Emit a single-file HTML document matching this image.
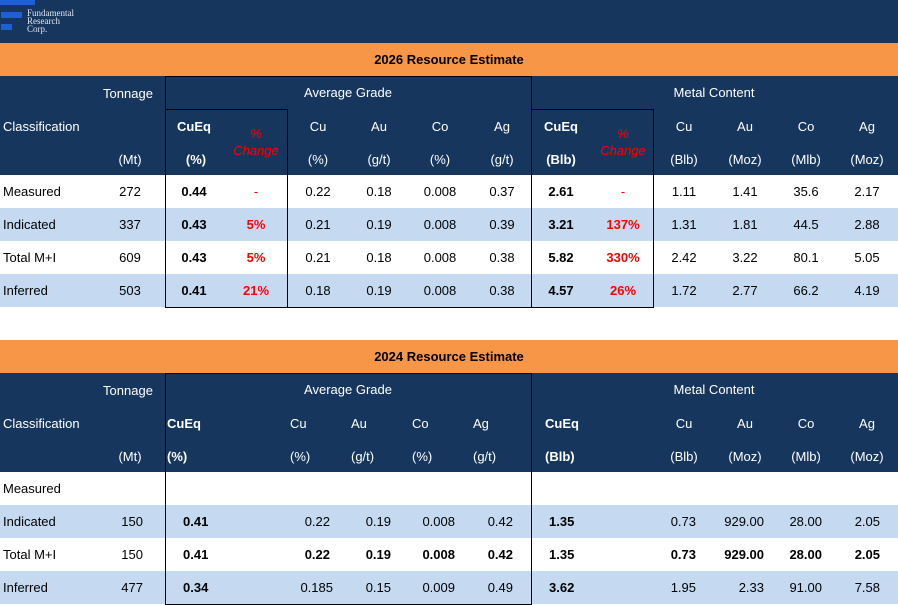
<!DOCTYPE html>
<html><head><meta charset="utf-8"><style>
body{margin:0;width:898px;height:605px;position:relative;background:#fff;font-family:"Liberation Sans",Arial,sans-serif;overflow:hidden}
div{position:absolute}
.nv{background:#17365d}
.or{background:#f79646}
.lb{background:#c5d9f1}
.t{font-size:13px;line-height:16px;white-space:nowrap;color:#000}
.w{color:#fff}
.b{font-weight:bold}
.rd{color:#ff0000}
.c{transform:translateX(-50%)}
.r{transform:translateX(-100%)}
.bx{border:1px solid #000;box-sizing:border-box}
</style></head><body>
<div class="nv" style="left:0;top:0;width:898px;height:43px"></div>
<div style="left:0;top:0;width:35px;height:5px;background:#1f5fd6"></div>
<div style="left:1px;top:12px;width:21px;height:6px;background:#1f5fd6"></div>
<div style="left:1px;top:24px;width:11px;height:6px;background:#1f5fd6"></div>
<div style="left:27px;top:9px;font-family:'Liberation Serif',serif;font-size:9px;line-height:8px;color:#dfe6f0">Fundamental<br>Research<br>Corp.</div>

<!-- Table 1 -->
<div class="or" style="left:0;top:43px;width:898px;height:33px"></div>
<div class="t b c" style="left:449px;top:52px">2026 Resource Estimate</div>
<div class="nv" style="left:0;top:76px;width:898px;height:99px"></div>
<div class="lb" style="left:0;top:208px;width:898px;height:33px"></div>
<div class="lb" style="left:0;top:274px;width:898px;height:33px"></div>
<div class="bx" style="left:165px;top:76px;width:367px;height:232px"></div>
<div class="bx" style="left:165px;top:109px;width:123px;height:199px"></div>
<div class="bx" style="left:531px;top:109px;width:123px;height:199px"></div>

<div class="t w c" style="left:128px;top:86px">Tonnage</div>
<div class="t w" style="left:3px;top:119px">Classification</div>
<div class="t w c" style="left:130px;top:152px">(Mt)</div>
<div class="t w c" style="left:348px;top:85px">Average Grade</div>
<div class="t w c" style="left:714px;top:85px">Metal Content</div>
<div class="t w b c" style="left:194px;top:119px">CuEq</div>
<div class="t w b c" style="left:196px;top:152px">(%)</div>
<div class="t rd c" style="left:256px;top:125px;font-style:italic;line-height:17px;text-align:center">%<br>Change</div>
<div class="t w c" style="left:318px;top:119px">Cu</div><div class="t w c" style="left:318px;top:152px">(%)</div>
<div class="t w c" style="left:379px;top:119px">Au</div><div class="t w c" style="left:379px;top:152px">(g/t)</div>
<div class="t w c" style="left:440px;top:119px">Co</div><div class="t w c" style="left:440px;top:152px">(%)</div>
<div class="t w c" style="left:502px;top:119px">Ag</div><div class="t w c" style="left:502px;top:152px">(g/t)</div>
<div class="t w b c" style="left:561px;top:119px">CuEq</div><div class="t w b c" style="left:561px;top:152px">(Blb)</div>
<div class="t rd c" style="left:623px;top:125px;font-style:italic;line-height:17px;text-align:center">%<br>Change</div>
<div class="t w c" style="left:684px;top:119px">Cu</div><div class="t w c" style="left:684px;top:152px">(Blb)</div>
<div class="t w c" style="left:745px;top:119px">Au</div><div class="t w c" style="left:745px;top:152px">(Moz)</div>
<div class="t w c" style="left:806px;top:119px">Co</div><div class="t w c" style="left:806px;top:152px">(Mlb)</div>
<div class="t w c" style="left:867px;top:119px">Ag</div><div class="t w c" style="left:867px;top:152px">(Moz)</div>

<!-- rows -->
<div class="t" style="left:3px;top:184px">Measured</div><div class="t c" style="left:130px;top:184px">272</div>
<div class="t b c" style="left:194px;top:184px">0.44</div><div class="t rd c" style="left:256px;top:184px">-</div>
<div class="t c" style="left:318px;top:184px">0.22</div><div class="t c" style="left:379px;top:184px">0.18</div><div class="t c" style="left:440px;top:184px">0.008</div><div class="t c" style="left:502px;top:184px">0.37</div>
<div class="t b c" style="left:561px;top:184px">2.61</div><div class="t rd c" style="left:623px;top:184px">-</div>
<div class="t c" style="left:684px;top:184px">1.11</div><div class="t c" style="left:745px;top:184px">1.41</div><div class="t c" style="left:806px;top:184px">35.6</div><div class="t c" style="left:867px;top:184px">2.17</div>

<div class="t" style="left:3px;top:217px">Indicated</div><div class="t c" style="left:130px;top:217px">337</div>
<div class="t b c" style="left:194px;top:217px">0.43</div><div class="t b rd c" style="left:256px;top:217px">5%</div>
<div class="t c" style="left:318px;top:217px">0.21</div><div class="t c" style="left:379px;top:217px">0.19</div><div class="t c" style="left:440px;top:217px">0.008</div><div class="t c" style="left:502px;top:217px">0.39</div>
<div class="t b c" style="left:561px;top:217px">3.21</div><div class="t b rd c" style="left:623px;top:217px">137%</div>
<div class="t c" style="left:684px;top:217px">1.31</div><div class="t c" style="left:745px;top:217px">1.81</div><div class="t c" style="left:806px;top:217px">44.5</div><div class="t c" style="left:867px;top:217px">2.88</div>

<div class="t" style="left:3px;top:250px">Total M+I</div><div class="t c" style="left:130px;top:250px">609</div>
<div class="t b c" style="left:194px;top:250px">0.43</div><div class="t b rd c" style="left:256px;top:250px">5%</div>
<div class="t c" style="left:318px;top:250px">0.21</div><div class="t c" style="left:379px;top:250px">0.18</div><div class="t c" style="left:440px;top:250px">0.008</div><div class="t c" style="left:502px;top:250px">0.38</div>
<div class="t b c" style="left:561px;top:250px">5.82</div><div class="t b rd c" style="left:623px;top:250px">330%</div>
<div class="t c" style="left:684px;top:250px">2.42</div><div class="t c" style="left:745px;top:250px">3.22</div><div class="t c" style="left:806px;top:250px">80.1</div><div class="t c" style="left:867px;top:250px">5.05</div>

<div class="t" style="left:3px;top:283px">Inferred</div><div class="t c" style="left:130px;top:283px">503</div>
<div class="t b c" style="left:194px;top:283px">0.41</div><div class="t b rd c" style="left:256px;top:283px">21%</div>
<div class="t c" style="left:318px;top:283px">0.18</div><div class="t c" style="left:379px;top:283px">0.19</div><div class="t c" style="left:440px;top:283px">0.008</div><div class="t c" style="left:502px;top:283px">0.38</div>
<div class="t b c" style="left:561px;top:283px">4.57</div><div class="t b rd c" style="left:623px;top:283px">26%</div>
<div class="t c" style="left:684px;top:283px">1.72</div><div class="t c" style="left:745px;top:283px">2.77</div><div class="t c" style="left:806px;top:283px">66.2</div><div class="t c" style="left:867px;top:283px">4.19</div>

<!-- Table 2 -->
<div class="or" style="left:0;top:340px;width:898px;height:33px"></div>
<div class="t b c" style="left:449px;top:349px">2024 Resource Estimate</div>
<div class="nv" style="left:0;top:373px;width:898px;height:99px"></div>
<div class="lb" style="left:0;top:505px;width:898px;height:33px"></div>
<div class="lb" style="left:0;top:571px;width:898px;height:33px"></div>
<div class="bx" style="left:165px;top:373px;width:367px;height:232px"></div>

<div class="t w c" style="left:128px;top:383px">Tonnage</div>
<div class="t w" style="left:3px;top:416px">Classification</div>
<div class="t w c" style="left:130px;top:449px">(Mt)</div>
<div class="t w c" style="left:348px;top:382px">Average Grade</div>
<div class="t w c" style="left:714px;top:382px">Metal Content</div>
<div class="t w b" style="left:167px;top:416px">CuEq</div><div class="t w b" style="left:167px;top:449px">(%)</div>
<div class="t w" style="left:290px;top:416px">Cu</div><div class="t w" style="left:290px;top:449px">(%)</div>
<div class="t w" style="left:351px;top:416px">Au</div><div class="t w" style="left:351px;top:449px">(g/t)</div>
<div class="t w" style="left:412px;top:416px">Co</div><div class="t w" style="left:412px;top:449px">(%)</div>
<div class="t w" style="left:473px;top:416px">Ag</div><div class="t w" style="left:473px;top:449px">(g/t)</div>
<div class="t w b" style="left:545px;top:416px">CuEq</div><div class="t w b" style="left:545px;top:449px">(Blb)</div>
<div class="t w c" style="left:684px;top:416px">Cu</div><div class="t w c" style="left:684px;top:449px">(Blb)</div>
<div class="t w c" style="left:745px;top:416px">Au</div><div class="t w c" style="left:745px;top:449px">(Moz)</div>
<div class="t w c" style="left:806px;top:416px">Co</div><div class="t w c" style="left:806px;top:449px">(Mlb)</div>
<div class="t w c" style="left:867px;top:416px">Ag</div><div class="t w c" style="left:867px;top:449px">(Moz)</div>

<div class="t" style="left:3px;top:481px">Measured</div>

<div class="t" style="left:3px;top:514px">Indicated</div><div class="t r" style="left:143px;top:514px">150</div>
<div class="t b" style="left:183px;top:514px">0.41</div>
<div class="t r" style="left:330px;top:514px">0.22</div><div class="t r" style="left:391px;top:514px">0.19</div><div class="t r" style="left:455px;top:514px">0.008</div><div class="t r" style="left:513px;top:514px">0.42</div>
<div class="t b" style="left:549px;top:514px">1.35</div>
<div class="t r" style="left:696px;top:514px">0.73</div><div class="t r" style="left:764px;top:514px">929.00</div><div class="t r" style="left:822px;top:514px">28.00</div><div class="t r" style="left:880px;top:514px">2.05</div>

<div class="t" style="left:3px;top:547px">Total M+I</div><div class="t r" style="left:143px;top:547px">150</div>
<div class="t b" style="left:183px;top:547px">0.41</div>
<div class="t b r" style="left:330px;top:547px">0.22</div><div class="t b r" style="left:391px;top:547px">0.19</div><div class="t b r" style="left:455px;top:547px">0.008</div><div class="t b r" style="left:513px;top:547px">0.42</div>
<div class="t b" style="left:549px;top:547px">1.35</div>
<div class="t b r" style="left:696px;top:547px">0.73</div><div class="t b r" style="left:764px;top:547px">929.00</div><div class="t b r" style="left:822px;top:547px">28.00</div><div class="t b r" style="left:880px;top:547px">2.05</div>

<div class="t" style="left:3px;top:580px">Inferred</div><div class="t r" style="left:143px;top:580px">477</div>
<div class="t b" style="left:183px;top:580px">0.34</div>
<div class="t r" style="left:333px;top:580px">0.185</div><div class="t r" style="left:391px;top:580px">0.15</div><div class="t r" style="left:455px;top:580px">0.009</div><div class="t r" style="left:513px;top:580px">0.49</div>
<div class="t b" style="left:549px;top:580px">3.62</div>
<div class="t r" style="left:696px;top:580px">1.95</div><div class="t r" style="left:764px;top:580px">2.33</div><div class="t r" style="left:822px;top:580px">91.00</div><div class="t r" style="left:880px;top:580px">7.58</div>
</body></html>
